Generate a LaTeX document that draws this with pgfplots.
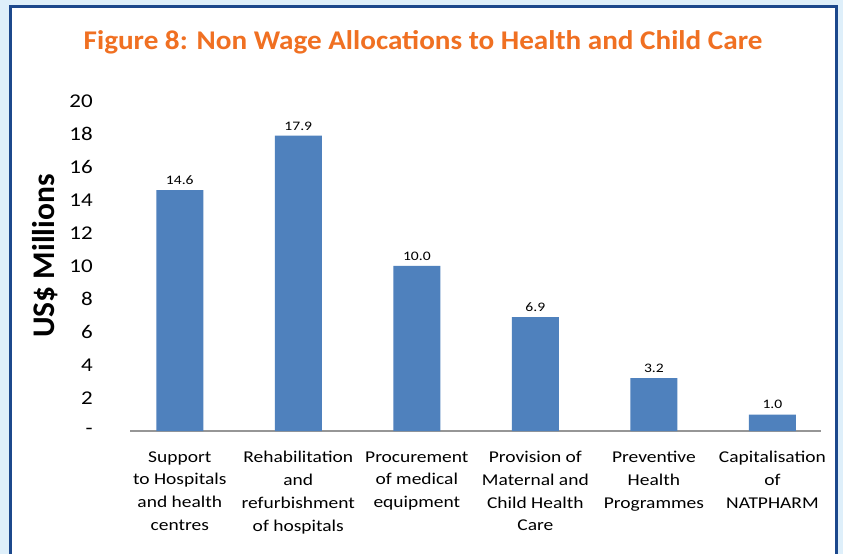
\documentclass[border=0pt]{standalone}
\usepackage{fontspec}
\setmainfont{Carlito}
\usepackage{pgfplots}
\pgfplotsset{compat=1.18}
\definecolor{barblue}{RGB}{79,129,189}
\definecolor{titleorange}{RGB}{240,112,34}
\definecolor{framenavy}{RGB}{28,72,140}
\definecolor{outerblue}{RGB}{222,239,250}
\definecolor{axisgray}{RGB}{150,150,150}
\begin{document}
\begin{tikzpicture}[x=1pt,y=1pt]
% background and frame
\fill[outerblue] (0,0) rectangle (843,-554);
\fill[white] (10,-7) rectangle (836,-554);
\draw[framenavy, line width=3pt] (10,-554) -- (10,-7) -- (836,-7) -- (836,-554);
\node[font=\fontsize{27}{30}\selectfont\bfseries, text=titleorange, xscale=1.08] at (423,-42)
  {Figure 8: Non Wage Allocations to Health and Child Care};
\node[rotate=90, font=\fontsize{31.5}{34}\selectfont\bfseries] at (45,-256) {US\$ Millions};
\begin{axis}[
    at={(130pt,-431pt)}, anchor=south west,
    scale only axis, width=691pt, height=330pt,
    xmin=-0.42, xmax=5.41, ymin=0, ymax=20,
    ybar, bar width=47pt, bar shift=0pt,
    axis x line*=bottom, axis y line*=left,
    x axis line style={axisgray, line width=2.5pt},
    y axis line style={draw=none},
    xtick style={draw=none}, ytick style={draw=none},
    /pgf/number format/assume math mode=true,
    ytick={0,2,...,20},
    yticklabels={-,2,4,6,8,10,12,14,16,18,20},
    yticklabel style={font=\fontsize{19.5}{22}\selectfont, anchor=east, inner sep=0pt, xshift=-37pt, xscale=1.18},
    xtick={0,...,5},
    xticklabels={{Support\\to Hospitals\\and health\\centres},
                 {Rehabilitation\\and\\refurbishment\\of hospitals},
                 {Procurement\\of medical\\equipment},
                 {Provision of\\Maternal and\\Child Health\\Care},
                 {Preventive\\Health\\Programmes},
                 {Capitalisation\\of\\NATPHARM}},
    xticklabel style={font=\fontsize{16.5}{22.7}\selectfont, align=center, anchor=north, inner sep=0pt, yshift=-16pt, xscale=1.18},
    nodes near coords={\pgfmathprintnumber[fixed,fixed zerofill,precision=1]{\pgfplotspointmeta}},
    nodes near coords style={font=\fontsize{13}{15}\selectfont, anchor=south, yshift=2pt, xscale=1.2},
]
\addplot[fill=barblue, draw=none] coordinates {(0,14.6) (1,17.9) (2,10.0) (3,6.9) (4,3.2) (5,1.0)};
\end{axis}
\useasboundingbox (0,0) rectangle (843,-554);
\end{tikzpicture}
\end{document}
